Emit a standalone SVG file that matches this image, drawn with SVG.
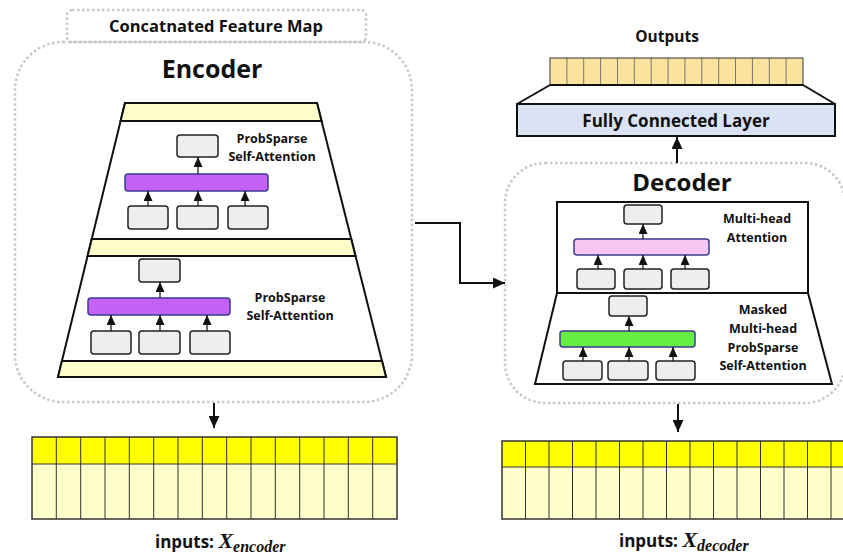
<svg xmlns="http://www.w3.org/2000/svg" width="843" height="556" viewBox="0 0 843 556">
<defs>
<style>
.t{font-family:"Open Sans","Noto Sans","Liberation Sans",sans-serif;font-weight:bold;fill:#111;text-anchor:middle}
.dot{fill:none;stroke:#c8c8c8;stroke-width:2.5;stroke-dasharray:2.5 2.5}
.box{fill:#eeeeee;stroke:#222;stroke-width:1.5}
.ln{stroke:#111;stroke-width:2;fill:none}
.sa{stroke:#111;stroke-width:1.2;fill:none;marker-end:url(#sh)}
.ba{stroke:#111;stroke-width:2;fill:none;marker-end:url(#bh)}
.band{fill:#ffffcc;stroke:#111;stroke-width:2}
.m{font-family:"Liberation Serif","DejaVu Serif",serif;font-style:italic;font-weight:bold;fill:#111}
</style>
<marker id="sh" markerWidth="10" markerHeight="9" viewBox="0 0 10 9" refX="10" refY="4.5" orient="auto" markerUnits="userSpaceOnUse"><path d="M0,0 L10,4.5 L0,9 Z" fill="#111"/></marker>
<marker id="bh" markerWidth="12" markerHeight="11" viewBox="0 0 12 11" refX="12" refY="5.5" orient="auto" markerUnits="userSpaceOnUse"><path d="M0,0 L12,5.5 L0,11 Z" fill="#111"/></marker>
</defs>
<rect width="843" height="556" fill="#ffffff"/>

<g id="concat-label">
<rect class="dot" x="67" y="10" width="299" height="32" rx="5"/>
<text class="t" x="216" y="32" font-size="16.5">Concatnated Feature Map</text>
</g>

<g id="encoder">
<rect class="dot" x="15" y="42" width="397" height="360" rx="48"/>
<text class="t" x="212" y="78" font-size="25">Encoder</text>
<polygon points="125,103 317,103 386,377 58,377" fill="#fff" stroke="#111" stroke-width="2"/>
<polygon class="band" points="125,103 317,103 321.5,121 120.6,121"/>
<polygon class="band" points="91.75,239 351.2,239 355.5,256 87.6,256"/>
<polygon class="band" points="61.9,361 382,361 386,377 58,377"/>
</g>

<g id="enc-attn-1">
<rect class="box" x="177" y="135" width="41" height="22" rx="3"/>
<rect x="125" y="174" width="143" height="17" rx="3" fill="#c462f5" stroke="#3b3b8f" stroke-width="1.5"/>
<rect class="box" x="128" y="206" width="40" height="23" rx="3"/>
<rect class="box" x="177" y="206" width="41" height="23" rx="3"/>
<rect class="box" x="228" y="206" width="40" height="23" rx="3"/>
<line class="sa" x1="198" y1="174" x2="198" y2="157"/>
<line class="sa" x1="148" y1="206" x2="148" y2="191"/>
<line class="sa" x1="198" y1="206" x2="198" y2="191"/>
<line class="sa" x1="245" y1="206" x2="245" y2="191"/>
<text class="t" x="272" y="143" font-size="12.5">ProbSparse</text>
<text class="t" x="272" y="161" font-size="12.5">Self-Attention</text>
</g>

<g id="enc-attn-2">
<rect class="box" x="139" y="259" width="41" height="23" rx="3"/>
<rect x="88" y="298" width="142" height="17" rx="3" fill="#c462f5" stroke="#3b3b8f" stroke-width="1.5"/>
<rect class="box" x="91" y="331" width="40" height="23" rx="3"/>
<rect class="box" x="139" y="331" width="41" height="23" rx="3"/>
<rect class="box" x="190" y="331" width="40" height="23" rx="3"/>
<line class="sa" x1="160" y1="298" x2="160" y2="282"/>
<line class="sa" x1="111" y1="331" x2="111" y2="315"/>
<line class="sa" x1="160" y1="331" x2="160" y2="315"/>
<line class="sa" x1="207" y1="331" x2="207" y2="315"/>
<text class="t" x="290" y="302" font-size="12.5">ProbSparse</text>
<text class="t" x="290" y="320" font-size="12.5">Self-Attention</text>
</g>

<g id="enc-inputs">
<rect x="32" y="437" width="365" height="27" fill="#ffff00"/>
<rect x="32" y="464" width="365" height="55" fill="#ffffcc"/>
<g stroke="#333" stroke-width="1">
<line x1="56.3" y1="437" x2="56.3" y2="519"/><line x1="80.7" y1="437" x2="80.7" y2="519"/><line x1="105" y1="437" x2="105" y2="519"/><line x1="129.3" y1="437" x2="129.3" y2="519"/><line x1="153.7" y1="437" x2="153.7" y2="519"/><line x1="178" y1="437" x2="178" y2="519"/><line x1="202.3" y1="437" x2="202.3" y2="519"/><line x1="226.7" y1="437" x2="226.7" y2="519"/><line x1="251" y1="437" x2="251" y2="519"/><line x1="275.3" y1="437" x2="275.3" y2="519"/><line x1="299.7" y1="437" x2="299.7" y2="519"/><line x1="324" y1="437" x2="324" y2="519"/><line x1="348.3" y1="437" x2="348.3" y2="519"/><line x1="372.7" y1="437" x2="372.7" y2="519"/>
<line x1="32" y1="464" x2="397" y2="464"/>
</g>
<rect x="32" y="437" width="365" height="82" fill="none" stroke="#333" stroke-width="1.5"/>
<text x="155" y="548" font-family="Open Sans, Noto Sans, sans-serif" font-weight="bold" font-size="17" fill="#111">inputs: <tspan class="m" font-size="22">X</tspan><tspan class="m" font-size="16" dy="4">encoder</tspan></text>
</g>

<g id="outputs">
<text class="t" x="667" y="42" font-size="15.5">Outputs</text>
<rect x="550" y="58" width="253" height="27" fill="#fbe39d"/>
<g stroke="#777" stroke-width="1">
<line x1="566.9" y1="58" x2="566.9" y2="85"/><line x1="583.7" y1="58" x2="583.7" y2="85"/><line x1="600.6" y1="58" x2="600.6" y2="85"/><line x1="617.5" y1="58" x2="617.5" y2="85"/><line x1="634.3" y1="58" x2="634.3" y2="85"/><line x1="651.2" y1="58" x2="651.2" y2="85"/><line x1="668.1" y1="58" x2="668.1" y2="85"/><line x1="684.9" y1="58" x2="684.9" y2="85"/><line x1="701.8" y1="58" x2="701.8" y2="85"/><line x1="718.7" y1="58" x2="718.7" y2="85"/><line x1="735.5" y1="58" x2="735.5" y2="85"/><line x1="752.4" y1="58" x2="752.4" y2="85"/><line x1="769.3" y1="58" x2="769.3" y2="85"/><line x1="786.1" y1="58" x2="786.1" y2="85"/>
</g>
<rect x="550" y="58" width="253" height="27" fill="none" stroke="#555" stroke-width="1.2"/>
</g>

<g id="fc-layer">
<rect x="517" y="104" width="318" height="32" fill="#dae3f3" stroke="#111" stroke-width="2"/>
<text class="t" x="676" y="127" font-size="17">Fully Connected Layer</text>
</g>

<g id="decoder">
<rect class="dot" x="505" y="163" width="340" height="240" rx="40"/>
<text class="t" x="682" y="191" font-size="24">Decoder</text>
<rect x="557" y="202" width="251" height="91" fill="#fff" stroke="#111" stroke-width="2"/>
<polygon points="557,293 808,293 832,384 535,384" fill="#fff" stroke="#111" stroke-width="2"/>
</g>

<g id="dec-mha">
<rect class="box" x="624" y="205" width="38" height="19" rx="3"/>
<rect x="574" y="239" width="135" height="16" rx="3" fill="#f7c6f3" stroke="#3b3b8f" stroke-width="1.5"/>
<rect class="box" x="577" y="269" width="38" height="20" rx="3"/>
<rect class="box" x="624" y="269" width="38" height="20" rx="3"/>
<rect class="box" x="671" y="269" width="38" height="20" rx="3"/>
<line class="sa" x1="643" y1="239" x2="643" y2="224"/>
<line class="sa" x1="598" y1="269" x2="598" y2="255"/>
<line class="sa" x1="643" y1="269" x2="643" y2="255"/>
<line class="sa" x1="685" y1="269" x2="685" y2="255"/>
<text class="t" x="757" y="223" font-size="12.5">Multi-head</text>
<text class="t" x="757" y="242" font-size="12.5">Attention</text>
</g>

<g id="dec-masked">
<rect class="box" x="609" y="296" width="38" height="20" rx="3"/>
<rect x="560" y="331" width="135" height="16" rx="3" fill="#66ee44" stroke="#3b3b8f" stroke-width="1.5"/>
<rect class="box" x="563" y="361" width="39" height="19" rx="3"/>
<rect class="box" x="608" y="361" width="40" height="19" rx="3"/>
<rect class="box" x="656" y="361" width="39" height="19" rx="3"/>
<line class="sa" x1="629" y1="331" x2="629" y2="316"/>
<line class="sa" x1="583" y1="361" x2="583" y2="347"/>
<line class="sa" x1="629" y1="361" x2="629" y2="347"/>
<line class="sa" x1="673" y1="361" x2="673" y2="347"/>
<text class="t" x="763" y="314" font-size="12.5">Masked</text>
<text class="t" x="763" y="333" font-size="12.5">Multi-head</text>
<text class="t" x="763" y="352" font-size="12.5">ProbSparse</text>
<text class="t" x="763" y="370" font-size="12.5">Self-Attention</text>
</g>

<g id="dec-inputs">
<rect x="502" y="441" width="360" height="26" fill="#ffff00"/>
<rect x="502" y="467" width="360" height="52" fill="#ffffcc"/>
<g stroke="#333" stroke-width="1">
<line x1="525.5" y1="441" x2="525.5" y2="519"/><line x1="549" y1="441" x2="549" y2="519"/><line x1="572.5" y1="441" x2="572.5" y2="519"/><line x1="596" y1="441" x2="596" y2="519"/><line x1="619.5" y1="441" x2="619.5" y2="519"/><line x1="643" y1="441" x2="643" y2="519"/><line x1="666.5" y1="441" x2="666.5" y2="519"/><line x1="690" y1="441" x2="690" y2="519"/><line x1="713.5" y1="441" x2="713.5" y2="519"/><line x1="737" y1="441" x2="737" y2="519"/><line x1="760.5" y1="441" x2="760.5" y2="519"/><line x1="784" y1="441" x2="784" y2="519"/><line x1="807.5" y1="441" x2="807.5" y2="519"/><line x1="831" y1="441" x2="831" y2="519"/>
<line x1="502" y1="467" x2="862" y2="467"/>
</g>
<rect x="502" y="441" width="360" height="78" fill="none" stroke="#333" stroke-width="1.5"/>
<text x="619" y="547" font-family="Open Sans, Noto Sans, sans-serif" font-weight="bold" font-size="17" fill="#111">inputs: <tspan class="m" font-size="22">X</tspan><tspan class="m" font-size="16" dy="4">decoder</tspan></text>
</g>

<g id="connectors">
<line class="ba" x1="214" y1="403" x2="214" y2="428"/>
<line class="ba" x1="678" y1="404" x2="678" y2="432"/>
<line class="ba" x1="677" y1="163" x2="677" y2="137"/>
<polyline class="ba" points="415,223 460,223 460,283 505,283"/>
<line class="ln" x1="550" y1="85" x2="803" y2="85"/>
<line class="ln" x1="550" y1="85" x2="517" y2="104"/>
<line class="ln" x1="803" y1="85" x2="835" y2="104"/>
</g>
</svg>
